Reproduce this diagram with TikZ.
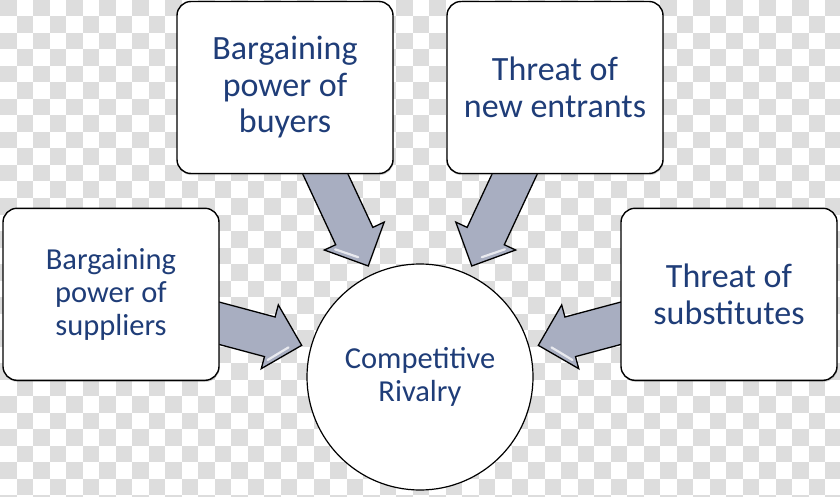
\documentclass[tikz,border=0pt]{standalone}
\usepackage{fontspec}
\setmainfont{Carlito}
\usetikzlibrary{calc,shadows}
\definecolor{checkgray}{RGB}{221,221,221}
\definecolor{txtblue}{RGB}{31,61,120}
\definecolor{arrowgray}{RGB}{168,174,193}
\newcommand\bigtxtf{\fontsize{34}{36.5}\selectfont}
\newcommand\smalltxtf{\fontsize{30.5}{33}\selectfont}
\pgfdeclarelayer{checker}
\pgfdeclarelayer{arrowlayer}
\pgfsetlayers{checker,arrowlayer,main}
\newcommand\forcearrow[2]{%
  \coordinate (#1-tip) at ($(rc)!122.5pt!(#1)$);
  \coordinate (#1-hc) at ($(rc)!155.5pt!(#1)$);
  \coordinate (#1-sc) at ($(rc)!255pt!(#1)$);
  \draw[arrowbody] ($(#1-sc)!20.5pt!90:(rc)$) -- ($(#1-hc)!20.5pt!90:(rc)$) -- ($(#1-hc)!33pt!90:(rc)$) -- (#1-tip) -- ($(#1-hc)!33pt!-90:(rc)$) -- ($(#1-hc)!20.5pt!-90:(rc)$) -- ($(#1-sc)!20.5pt!-90:(rc)$) -- cycle;
  \coordinate (#1-hla) at ($(#1-hc)!27pt!#2:(rc)$);
  \coordinate (#1-hlb) at ($(#1-tip)!7pt!(#1-hc)$);
  \draw[shine] ($(#1-hla)!0.15!(#1-hlb)$) -- ($(#1-hla)!0.8!(#1-hlb)$);
}
\begin{document}
\begin{tikzpicture}[x=1pt,y=-1pt,
  box/.style={draw=black, line width=1.4pt, fill=white, rounded corners=14pt,
    minimum width=216pt, minimum height=172pt, inner sep=0pt, align=center,
    text=txtblue, font=\bigtxtf,
    drop shadow={shadow xshift=0.6pt, shadow yshift=-1.6pt, opacity=0.35}},
  rivalry/.style={circle, draw=black, line width=1.2pt, fill=white,
    minimum size=226pt, inner sep=0pt, align=center, text=txtblue, font=\smalltxtf},
  arrowbody/.style={fill=arrowgray, draw=black, line width=1.3pt},
  shine/.style={draw=white, line width=2.2pt, line cap=round, opacity=0.75}]
\useasboundingbox (0,0) rectangle (840,497);

\begin{pgfonlayer}{checker}
\begin{scope}
\clip (0,0) rectangle (840,497);
\fill[white] (0,0) rectangle (840,497);
\foreach \i in {0,...,50}{\foreach \j in {0,...,30}{%
  \pgfmathtruncatemacro\cellpar{mod(\i+\j,2)}%
  \ifnum\cellpar=0 \fill[checkgray] ({\i*16.5},{\j*16.5}) rectangle ++(16.5,16.5);\fi}}
\end{scope}
\end{pgfonlayer}

\node[box] (buy) at (285,87.5) {Bargaining\\power of\\buyers};
\node[box] (ent) at (555,87.5) {Threat of\\new entrants};
\node[box, font=\smalltxtf] (sup) at (111,294.3) {Bargaining\\power of\\suppliers};
\node[box] (sub) at (729,294.3) {Threat of\\substitutes};
\node[rivalry] (rc) at (420,377) {Competitive\\Rivalry};

\begin{pgfonlayer}{arrowlayer}
\forcearrow{buy}{-90}
\forcearrow{ent}{90}
\forcearrow{sup}{-90}
\forcearrow{sub}{90}
\end{pgfonlayer}
\end{tikzpicture}
\end{document}
